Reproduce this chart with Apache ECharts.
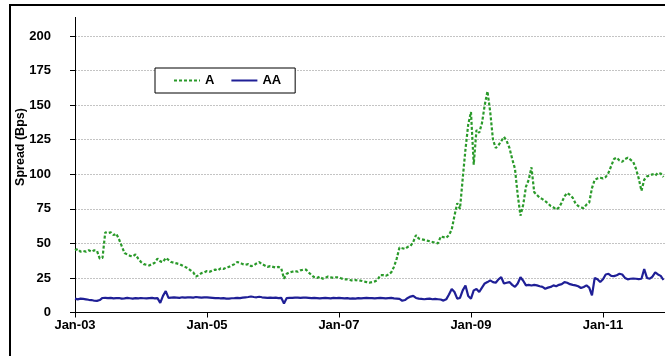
<!DOCTYPE html>
<html>
<head>
<meta charset="utf-8">
<script src="https://cdn.jsdelivr.net/npm/echarts@6/dist/echarts.min.js"></script>
<style>
  html, body { margin: 0; padding: 0; background: #fff; }
  #demo { width: 665px; height: 356px; }
</style>
</head>
<body>
<div id="demo"></div>
<script>
// half-month steps from Jan-03 (x = years since Jan 2003)
const stepsPerYear = 24
const yearLabels = ['Jan-03', 'Jan-05', 'Jan-07', 'Jan-09', 'Jan-11']

const spreadA = [
  // 2003
  45, 46, 44, 44.5, 44, 45, 44, 45, 44.5, 39, 39.5, 58, 57.5, 58, 56, 57, 53, 48, 43, 42, 41, 40.5, 42, 39,
  // 2004
  36.5, 35, 34.5, 34, 35, 36, 39, 37, 36.5, 39.5, 38, 36.5, 36, 35.5, 35, 34, 33, 32, 30.5, 29, 26, 27, 28.5, 29,
  // 2005
  30, 29.5, 30.5, 31, 30.5, 32, 31.5, 32.5, 33, 34, 35, 36.5, 36, 35, 34.5, 35, 33.5, 34, 35.5, 36.5, 35, 34, 33, 33.5,
  // 2006
  33, 32.5, 33, 32, 24.5, 28, 29, 29.5, 30, 29.5, 30.5, 31, 31, 29, 27, 25.5, 25, 26, 24.5, 25, 26, 25.5, 25, 25.5,
  // 2007
  25.5, 24.5, 24, 24, 23.5, 23, 23.5, 23, 23, 22.5, 22, 21.5, 22, 22.5, 23.5, 27, 27, 26.5, 27.5, 29, 33, 39, 47, 46.5,
  // 2008
  46, 47.5, 48, 51, 56, 53.5, 53, 52.5, 52, 51.5, 51, 50.5, 50, 55, 54.5, 54, 56, 60, 70, 79, 75, 97, 118, 136,
  // 2009
  145, 107, 132, 130, 137, 150, 160, 145, 125, 119, 121, 124, 127, 124, 119, 111, 104, 85, 70, 78, 91, 96, 105, 87,
  // 2010
  85, 83, 82, 80.5, 79, 77, 76, 74.5, 76, 79.5, 84, 86.5, 85, 83, 79, 77, 76, 75.5, 78, 79.5, 90, 96, 97, 97.5,
  // 2011
  97, 98, 101, 106, 111, 112, 110, 109, 111, 112, 110.5, 109, 104, 97, 88, 96, 98.5, 99, 100, 99, 101, 100.5, 98
]

const spreadAA = [
  // 2003
  10, 9.5, 10, 9.8, 9.5, 9.2, 9, 8.5, 8.4, 9, 10.5, 10.6, 10.4, 10.6, 10.2, 10.4, 10.5, 10, 10.2, 10.6, 10.3, 10, 10.4, 10.2,
  // 2004
  10.5, 10.3, 10.2, 10.4, 10.6, 10.2, 10.4, 7, 12, 15.5, 10.6, 10.8, 11, 10.8, 10.6, 11, 10.8, 11, 11, 10.8, 11.2, 11, 10.8, 11,
  // 2005
  11, 10.8, 10.6, 10.4, 10.5, 10.2, 10.4, 10, 10, 10.3, 10.4, 10.6, 10.4, 10.8, 11, 11.2, 11.6, 11.2, 11, 11.4, 11, 10.8, 10.6, 10.8,
  // 2006
  10.6, 10.8, 10.4, 10.6, 6.5, 10.4, 10.6, 10.6, 10.8, 10.8, 10.6, 10.8, 10.8, 10.6, 10.4, 10.6, 10.4, 10.2, 10.4, 10.6, 10.4, 10.2, 10.6, 10.4,
  // 2007
  10.6, 10.4, 10.2, 10.4, 10, 10.2, 10, 10.4, 10.2, 10.4, 10.6, 10.4, 10.4, 10.2, 10.4, 10.6, 10.4, 10.2, 10.4, 10.6, 10.2, 10, 9.8, 8.5,
  // 2008
  9, 10.5, 11.5, 12, 10.5, 10, 9.8, 9.6, 9.8, 10, 9.6, 9.8, 9.6, 9.4, 8.6, 9.5, 13, 17, 14.8, 10, 10.5, 16, 19.5, 12,
  // 2009
  10, 16, 17, 14.8, 18, 21, 22, 23.2, 22, 21.5, 24, 25.5, 21, 21.5, 22, 20, 18.5, 21, 25.5, 23, 19.6, 20, 19.5, 20,
  // 2010
  19.6, 19, 18.5, 17.2, 18, 18.5, 19.6, 19, 20, 20.5, 22, 21.5, 20.5, 20, 19.6, 19, 17.7, 18.5, 19.6, 18, 12.4, 25, 24, 22,
  // 2011
  24, 27.5, 28, 26.5, 26.3, 27, 28, 27.5, 25, 24, 24.4, 24.6, 24.4, 24.2, 24.4, 31.5, 25, 24.4, 26, 29, 27.5, 26.5, 23.5
]

function toPoints (arr) {
  return arr.map(function (v, i) {
    return [i / stepsPerYear, v]
  })
}

const chart = echarts.init(document.getElementById('demo'))
const labelFont = {
  fontFamily: 'Liberation Sans',
  fontWeight: 'bold',
  fontSize: 13,
  color: '#000'
}

const option = {
  backgroundColor: '#fff',
  animation: false,
  grid: {
    left: 75,
    top: 36,
    right: 0,
    bottom: 43.5
  },
  legend: {
    left: 155,
    top: 68,
    orient: 'horizontal',
    backgroundColor: '#fff',
    borderColor: '#000',
    borderWidth: 1,
    padding: [6, 14, 6, 18],
    itemWidth: 26,
    itemHeight: 14,
    itemGap: 16,
    itemStyle: { opacity: 0 },
    textStyle: labelFont,
    data: ['A', 'AA']
  },
  xAxis: {
    type: 'value',
    min: 0,
    max: 8.94,
    interval: 2,
    axisLine: { lineStyle: { color: '#000', width: 1 } },
    axisTick: { length: 5, lineStyle: { color: '#000' } },
    splitLine: { show: false },
    axisLabel: Object.assign({}, labelFont, {
      margin: 6,
      showMaxLabel: false,
      formatter: function (v) {
        const idx = v / 2
        return yearLabels[idx] || ''
      }
    })
  },
  yAxis: {
    type: 'value',
    min: 0,
    max: 200,
    interval: 25,
    axisLine: { show: true, lineStyle: { color: '#000', width: 1 } },
    axisTick: { show: true, length: 5, lineStyle: { color: '#000' } },
    splitLine: { lineStyle: { color: '#c4c4c4', width: 1, type: [2, 1] } },
    axisLabel: Object.assign({}, labelFont, { margin: 24 })
  },
  graphic: [
    {
      type: 'rect',
      shape: { x: 10, y: 5, width: 700, height: 400 },
      style: { fill: null, stroke: '#000', lineWidth: 2 },
      silent: true
    },
    {
      type: 'line',
      shape: { x1: 75.5, y1: 17, x2: 75.5, y2: 36 },
      style: { stroke: '#000', lineWidth: 1 },
      silent: true
    },
    {
      type: 'text',
      x: 21,
      y: 147,
      rotation: Math.PI / 2,
      style: {
        text: 'Spread (Bps)',
        fill: '#000',
        font: 'bold 12.5px "Liberation Sans"',
        align: 'center',
        verticalAlign: 'middle'
      },
      silent: true
    }
  ],
  series: [
    {
      name: 'A',
      type: 'line',
      symbol: 'none',
      data: toPoints(spreadA),
      lineStyle: { color: '#2a9a2a', width: 2.2, type: [3, 2] },
      itemStyle: { color: '#2a9a2a' }
    },
    {
      name: 'AA',
      type: 'line',
      symbol: 'none',
      data: toPoints(spreadAA),
      lineStyle: { color: '#1f1f96', width: 2.2 },
      itemStyle: { color: '#1f1f96' }
    }
  ]
}
chart.setOption(option)
</script>
</body>
</html>
